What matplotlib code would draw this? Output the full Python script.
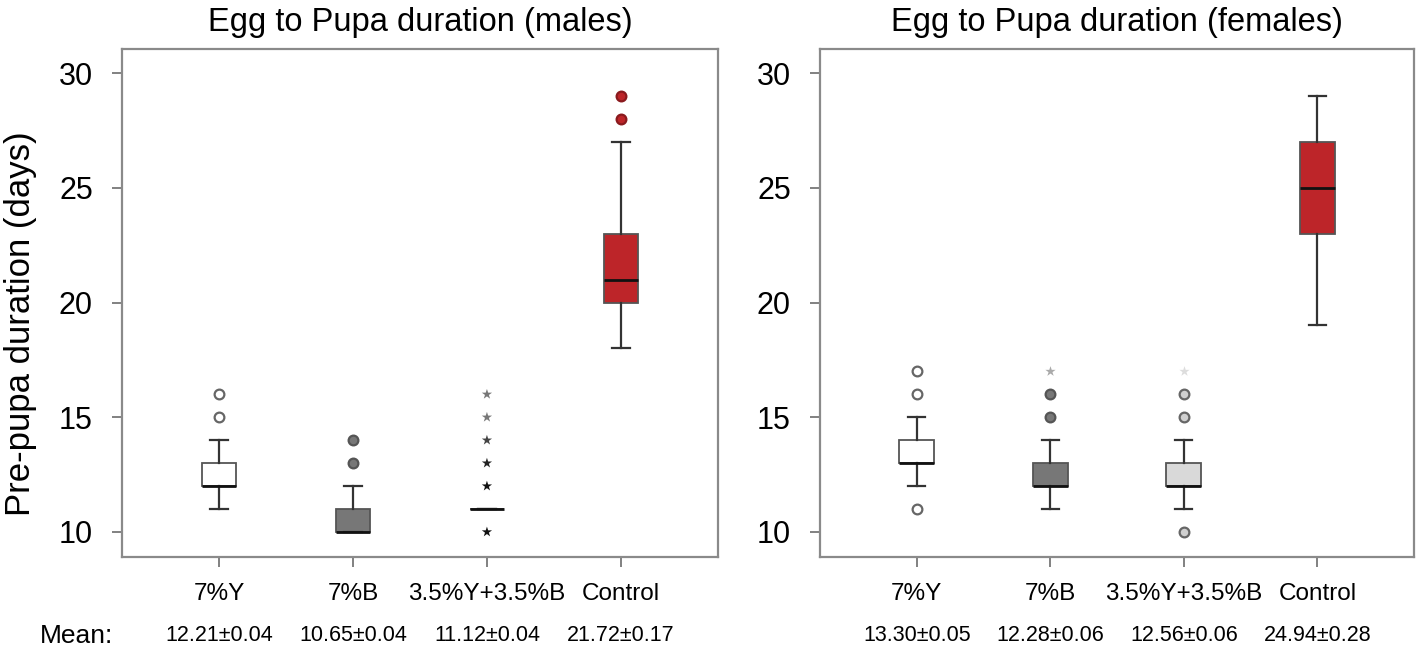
#Egg to Pupa duration boxplots (males / females)

#importing the libraries
import numpy as np
import matplotlib
matplotlib.use('Agg')
import matplotlib.pyplot as plt

plt.rcParams['font.family'] = ['Liberation Sans', 'DejaVu Sans']

#data
groups = ['7%Y', '7%B', '3.5%Y+3.5%B', 'Control']

male_q1 = [12, 10, 11, 20]
male_med = [12, 10, 11, 21]
male_q3 = [13, 11, 11, 23]
male_lo = [11, 10, 11, 18]
male_hi = [14, 12, 11, 27]
male_circles = [[15, 16], [13, 14], [], [28, 29]]
male_stars = [[], [], [10, 12, 13, 14, 15, 16], []]
male_star_colors = [[], [], ['#111111', '#111111', '#222222', '#444444', '#777777', '#777777'], []]
male_means = ['12.21±0.04', '10.65±0.04', '11.12±0.04', '21.72±0.17']

female_q1 = [13, 12, 12, 23]
female_med = [13, 12, 12, 25]
female_q3 = [14, 13, 13, 27]
female_lo = [12, 11, 11, 19]
female_hi = [15, 14, 14, 29]
female_circles = [[11, 16, 17], [15, 16], [10, 15, 16], []]
female_stars = [[], [17], [17], []]
female_star_colors = [[], ['#aaaaaa'], ['#dddddd'], []]
female_means = ['13.30±0.05', '12.28±0.06', '12.56±0.06', '24.94±0.28']

#styles
box_colors = ['white', '#777777', '#d9d9d9', '#bd2529']
circle_faces = ['white', '#777777', '#d0d0d0', '#bd2529']
circle_edges = ['#666666', '#555555', '#666666', '#8a1a1e']

fig = plt.figure(figsize=(14.18, 6.47), dpi=100)
ax1 = fig.add_axes([0.0860, 0.1391, 0.4203, 0.7852])
ax2 = fig.add_axes([0.5783, 0.1391, 0.4189, 0.7852])


def draw_panel(ax, q1, med, q3, lo, hi, circles, stars, star_colors, means, title):
    pos = np.arange(1, len(groups) + 1)
    stats = []
    for i in range(len(groups)):
        stats.append({'q1': q1[i], 'med': med[i], 'q3': q3[i],
                      'whislo': lo[i], 'whishi': hi[i], 'fliers': [], 'label': groups[i]})
    bp = ax.bxp(stats, positions=pos, widths=0.26, capwidths=0.13,
                showfliers=False, patch_artist=True,
                boxprops=dict(edgecolor='#555555', linewidth=1.3),
                whiskerprops=dict(color='#333333', linewidth=1.6),
                capprops=dict(color='#333333', linewidth=1.6),
                medianprops=dict(color='#111111', linewidth=2.0))
    for patch, c in zip(bp['boxes'], box_colors):
        patch.set_facecolor(c)

    #outliers
    for i in range(len(groups)):
        if circles[i]:
            ax.plot([pos[i]] * len(circles[i]), circles[i], 'o', ms=7,
                    mfc=circle_faces[i], mec=circle_edges[i], mew=1.6, zorder=3)
        if stars[i]:
            ax.scatter([pos[i]] * len(stars[i]), stars[i], marker='*', s=60,
                       c=star_colors[i], linewidths=0, zorder=3)

    ax.set_xlim(0.276, 4.724)
    ax.set_ylim(8.91, 31.05)
    ax.set_yticks([10, 15, 20, 25, 30])
    ax.set_xticks(pos)
    ax.set_xticklabels(groups)
    ax.tick_params(axis='y', labelsize=22, length=7, width=1.3, color='#777777', pad=14)
    ax.tick_params(axis='x', labelsize=17.5, length=7, width=1.3, color='#777777', pad=12)
    for sp in ax.spines.values():
        sp.set_color('#8a8a8a')
        sp.set_linewidth(1.6)
    ax.set_title(title, fontsize=23.5, pad=13)

    #mean row under the axis
    for i in range(len(groups)):
        ax.text(pos[i], -0.155, means[i], transform=ax.get_xaxis_transform(),
                ha='center', va='center', fontsize=15.5)


draw_panel(ax1, male_q1, male_med, male_q3, male_lo, male_hi, male_circles,
           male_stars, male_star_colors, male_means, 'Egg to Pupa duration (males)')
draw_panel(ax2, female_q1, female_med, female_q3, female_lo, female_hi, female_circles,
           female_stars, female_star_colors, female_means, 'Egg to Pupa duration (females)')

ax1.set_ylabel('Pre-pupa duration (days)', fontsize=25)
ax1.yaxis.set_label_coords(-0.143, 0.46)
fig.text(0.054, 0.017, 'Mean:', ha='center', va='center', fontsize=19)

plt.savefig('out.png', dpi=100)
